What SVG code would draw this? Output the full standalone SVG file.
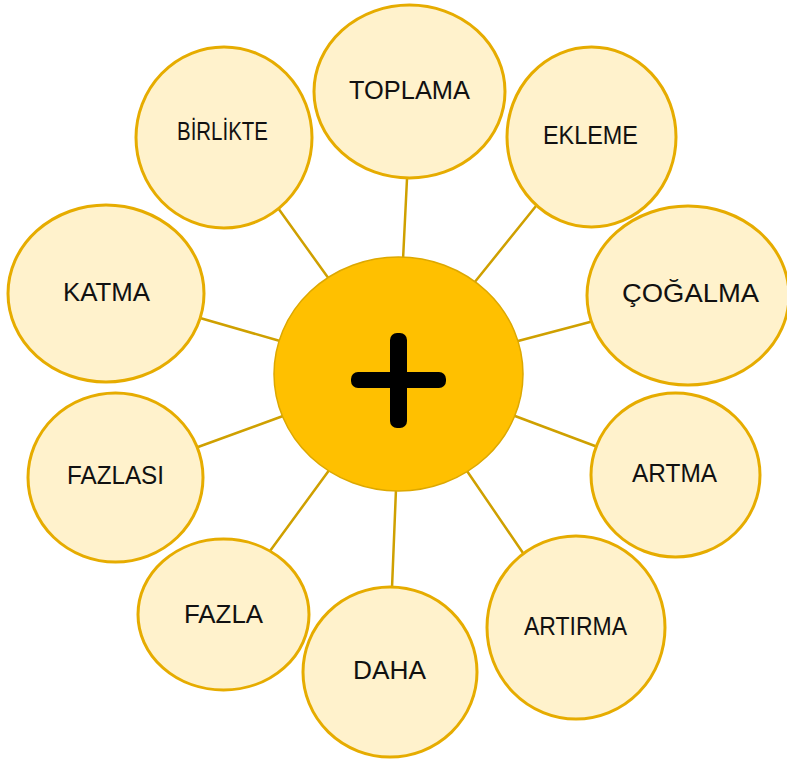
<svg xmlns="http://www.w3.org/2000/svg" width="787" height="760" viewBox="0 0 787 760">
<style>
.conn line{stroke:#CFA000;stroke-width:2.5;stroke-linecap:round}
.leaf ellipse{fill:#FFF2CC;stroke:#E6AC00;stroke-width:3}
.lbl{font-family:"Liberation Sans",Arial,sans-serif;font-size:26px;fill:#111;text-anchor:middle}
</style>
<rect width="787" height="760" fill="#FFFFFF"/>
<g id="connectors" class="conn">
<line x1="407" y1="179" x2="403" y2="260"/>
<line x1="278" y1="208" x2="329" y2="279"/>
<line x1="536" y1="206" x2="474" y2="283"/>
<line x1="200" y1="318" x2="280" y2="341"/>
<line x1="590" y1="322" x2="518" y2="341"/>
<line x1="198" y1="447" x2="283" y2="416"/>
<line x1="595" y1="446" x2="515" y2="416"/>
<line x1="270" y1="551" x2="330" y2="469"/>
<line x1="392" y1="588" x2="396" y2="489"/>
<line x1="523" y1="553" x2="467" y2="471"/>
</g>
<g id="node-center">
<ellipse cx="398.5" cy="374" rx="124.5" ry="117" fill="#FFC000" stroke="#DDA800" stroke-width="1.5"/>
<rect x="351" y="372" width="95" height="16" rx="7" fill="#000"/>
<rect x="390" y="333" width="17" height="95" rx="7" fill="#000"/>
</g>
<g id="node-toplama" class="leaf">
<ellipse cx="409.5" cy="91.5" rx="95.5" ry="86.5"/>
<text class="lbl" x="409.5" y="99" textLength="121" lengthAdjust="spacingAndGlyphs">TOPLAMA</text>
</g>
<g id="node-birlikte" class="leaf">
<ellipse cx="224" cy="137.5" rx="88" ry="90.5"/>
<text class="lbl" x="222.5" y="140" textLength="91" lengthAdjust="spacingAndGlyphs">BİRLİKTE</text>
</g>
<g id="node-ekleme" class="leaf">
<ellipse cx="591.5" cy="137" rx="84.5" ry="90"/>
<text class="lbl" x="590.5" y="144" textLength="95" lengthAdjust="spacingAndGlyphs">EKLEME</text>
</g>
<g id="node-katma" class="leaf">
<ellipse cx="106" cy="293.5" rx="98" ry="88.5"/>
<text class="lbl" x="106.5" y="301" textLength="87" lengthAdjust="spacingAndGlyphs">KATMA</text>
</g>
<g id="node-cogalma" class="leaf">
<ellipse cx="688" cy="295.5" rx="101" ry="89.5"/>
<text class="lbl" x="690.5" y="302" textLength="137" lengthAdjust="spacingAndGlyphs">ÇOĞALMA</text>
</g>
<g id="node-fazlasi" class="leaf">
<ellipse cx="115.5" cy="477.5" rx="87.5" ry="84.5"/>
<text class="lbl" x="115.5" y="484" textLength="97" lengthAdjust="spacingAndGlyphs">FAZLASI</text>
</g>
<g id="node-artma" class="leaf">
<ellipse cx="675.5" cy="475" rx="84.5" ry="82"/>
<text class="lbl" x="674.5" y="482" textLength="85" lengthAdjust="spacingAndGlyphs">ARTMA</text>
</g>
<g id="node-fazla" class="leaf">
<ellipse cx="223.5" cy="614.5" rx="85.5" ry="75.5"/>
<text class="lbl" x="223.5" y="623" textLength="79" lengthAdjust="spacingAndGlyphs">FAZLA</text>
</g>
<g id="node-daha" class="leaf">
<ellipse cx="390" cy="672" rx="87" ry="85"/>
<text class="lbl" x="389.5" y="679" textLength="73" lengthAdjust="spacingAndGlyphs">DAHA</text>
</g>
<g id="node-artirma" class="leaf">
<ellipse cx="576" cy="627.5" rx="89" ry="91.5"/>
<text class="lbl" x="575.5" y="635" textLength="103" lengthAdjust="spacingAndGlyphs">ARTIRMA</text>
</g>
</svg>
